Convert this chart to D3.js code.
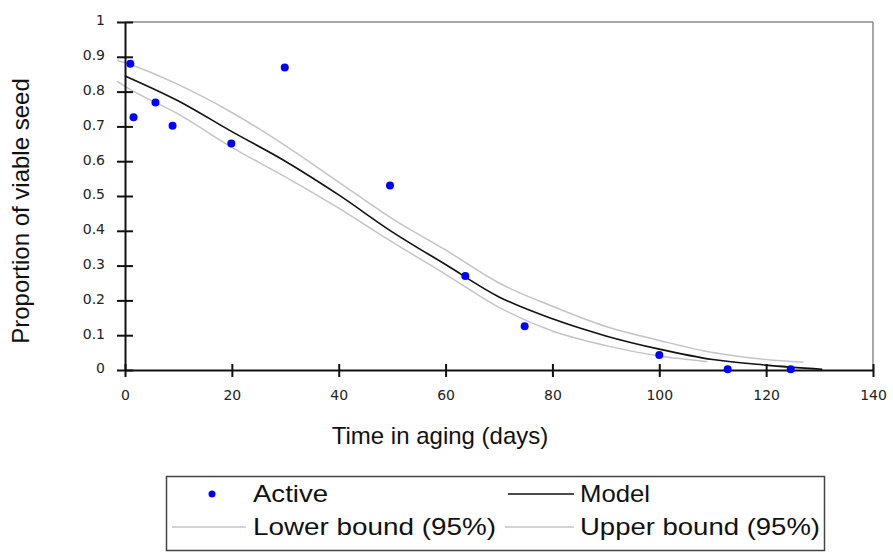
<!DOCTYPE html>
<html>
<head>
<meta charset="utf-8">
<script src="https://cdn.jsdelivr.net/npm/d3@7"></script>
<style>
    body { margin: 0; background: #fff; }
    svg { display: block; }
</style>
</head>
<body>
<svg id="chart" width="893" height="553"></svg>
<script>
// observed points (days, proportion)
const activeDays = [1, 1.6, 5.7, 8.9, 19.9, 29.9, 49.6, 63.7, 74.8, 100, 112.8, 124.6];
const activeValues = [0.88, 0.726, 0.769, 0.702, 0.651, 0.869, 0.53, 0.27, 0.126, 0.043, 0.002, 0.002];

// fitted model
const modelDays = [0, 10, 20, 30, 40, 50, 60, 70, 80, 90, 100, 110, 120, 130.5];
const modelValues = [0.845, 0.773, 0.685, 0.6, 0.503, 0.397, 0.303, 0.21, 0.147, 0.098, 0.06, 0.03, 0.014, 0.002];

// 95% bounds
const upperDays = [-1.5, 0, 10, 20, 30, 40, 50, 60, 70, 80, 90, 100, 110, 120, 127];
const upperValues = [0.89, 0.883, 0.82, 0.74, 0.645, 0.54, 0.435, 0.345, 0.25, 0.183, 0.125, 0.085, 0.05, 0.03, 0.022];
const lowerDays = [-1.5, 0, 10, 20, 30, 40, 50, 60, 70, 80, 90, 100, 109];
const lowerValues = [0.83, 0.815, 0.735, 0.64, 0.555, 0.465, 0.368, 0.275, 0.18, 0.112, 0.07, 0.04, 0.024];

const xTicks = [0, 20, 40, 60, 80, 100, 120, 140];
const yTicks = [0, 0.1, 0.2, 0.3, 0.4, 0.5, 0.6, 0.7, 0.8, 0.9, 1];

const legendLabels = ["Active", "Model", "Lower bound (95%)", "Upper bound (95%)"];

const svg = d3.select("svg#chart");

const area = { left: 125, right: 873, top: 22, bottom: 370 };

const scX = d3.scaleLinear().domain([0, 140]).range([area.left, area.right]);
const scY = d3.scaleLinear().domain([0, 1]).range([area.bottom, area.top]);

// frame: gray top / right
svg.append("line")
    .attr("x1", area.left).attr("x2", area.right)
    .attr("y1", area.top).attr("y2", area.top)
    .style("stroke", "#8a8a8a").style("stroke-width", 1.5);
svg.append("line")
    .attr("x1", area.right).attr("x2", area.right)
    .attr("y1", area.top).attr("y2", area.bottom)
    .style("stroke", "#8a8a8a").style("stroke-width", 1.5);

function drawCurve(days, values, color, width) {
    const pts = days.map((d, i) => [d, values[i]]);
    const line = d3.line()
        .x(d => scX(d[0]))
        .y(d => scY(d[1]))
        .curve(d3.curveMonotoneX);
    svg.append("path")
        .datum(pts)
        .attr("d", line)
        .style("fill", "none")
        .style("stroke", color)
        .style("stroke-width", width);
}

drawCurve(upperDays, upperValues, "#c4c4c4", 1.5);
drawCurve(lowerDays, lowerValues, "#c4c4c4", 1.5);
drawCurve(modelDays, modelValues, "#111", 1.6);

// axes (ticks cross the axis line)
const axisX = d3.axisBottom(scX).tickValues(xTicks).tickSizeOuter(0).tickFormat(d3.format("d"));
const gx = svg.append("g")
    .attr("transform", `translate(0, ${area.bottom})`)
    .call(axisX);
gx.select(".domain").style("stroke", "#111").style("stroke-width", 2);
gx.selectAll(".tick line")
    .attr("y1", -6).attr("y2", 7)
    .style("stroke", "#111").style("stroke-width", 2);
gx.selectAll(".tick text")
    .attr("y", 20)
    .style("font-family", "DejaVu Sans, Verdana, sans-serif")
    .style("font-size", "14px")
    .style("fill", "#222");

const axisY = d3.axisLeft(scY).tickValues(yTicks).tickSizeOuter(0).tickFormat(d => d3.format("")(+d.toFixed(1)));
const gy = svg.append("g")
    .attr("transform", `translate(${area.left}, 0)`)
    .call(axisY);
gy.select(".domain").style("stroke", "#111").style("stroke-width", 2);
gy.selectAll(".tick line")
    .attr("x1", -8).attr("x2", 8)
    .style("stroke", "#111").style("stroke-width", 2);
gy.selectAll(".tick text")
    .attr("x", -20)
    .attr("dy", "0.2em")
    .style("font-family", "DejaVu Sans, Verdana, sans-serif")
    .style("font-size", "14px")
    .style("fill", "#222");

// points
svg.selectAll(".dot")
    .data(activeDays.map((d, i) => ({ x: d, y: activeValues[i] })))
    .enter()
    .append("circle")
    .attr("class", "dot")
    .attr("cx", d => scX(d.x))
    .attr("cy", d => scY(d.y))
    .attr("r", 4)
    .style("fill", "#0000ff");

// axis titles
svg.append("text")
    .attr("x", 440).attr("y", 444)
    .attr("text-anchor", "middle")
    .style("font-family", "Liberation Sans, Arial, sans-serif")
    .style("font-size", "24px")
    .style("fill", "#111")
    .text("Time in aging (days)");

svg.append("text")
    .attr("transform", "translate(29, 211) rotate(-90)")
    .attr("text-anchor", "middle")
    .style("font-family", "Liberation Sans, Arial, sans-serif")
    .style("font-size", "24px")
    .style("fill", "#111")
    .text("Proportion of viable seed");

// legend
const lg = svg.append("g");
lg.append("rect")
    .attr("x", 166.5).attr("y", 476.5)
    .attr("width", 658).attr("height", 74)
    .style("fill", "#fff")
    .style("stroke", "#444").style("stroke-width", 1.5);

// layout of each legend entry: text start, baseline, text width, sample line
const legendLayout = [
    { kind: "dot", x: 253, y: 502, w: 75 },
    { kind: "line", color: "#111", x: 580, y: 502, w: 70, x1: 508, x2: 574 },
    { kind: "line", color: "#c4c4c4", x: 253, y: 535, w: 243, x1: 172, x2: 246 },
    { kind: "line", color: "#c4c4c4", x: 580, y: 535, w: 240, x1: 505, x2: 574 }
];

legendLabels.forEach((label, i) => {
    const it = legendLayout[i];
    if (it.kind === "dot") {
        lg.append("circle")
            .attr("cx", 212).attr("cy", it.y - 8).attr("r", 3.5)
            .style("fill", "#0000ff");
    } else {
        lg.append("line")
            .attr("x1", it.x1).attr("x2", it.x2)
            .attr("y1", it.y - 8).attr("y2", it.y - 8)
            .style("stroke", it.color).style("stroke-width", it.color === "#111" ? 1.6 : 1.5);
    }
    lg.append("text")
        .attr("x", it.x).attr("y", it.y)
        .attr("textLength", it.w)
        .attr("lengthAdjust", "spacingAndGlyphs")
        .style("font-family", "Liberation Sans, Arial, sans-serif")
        .style("font-size", "24px")
        .style("fill", "#111")
        .text(label);
});
</script>
</body>
</html>
